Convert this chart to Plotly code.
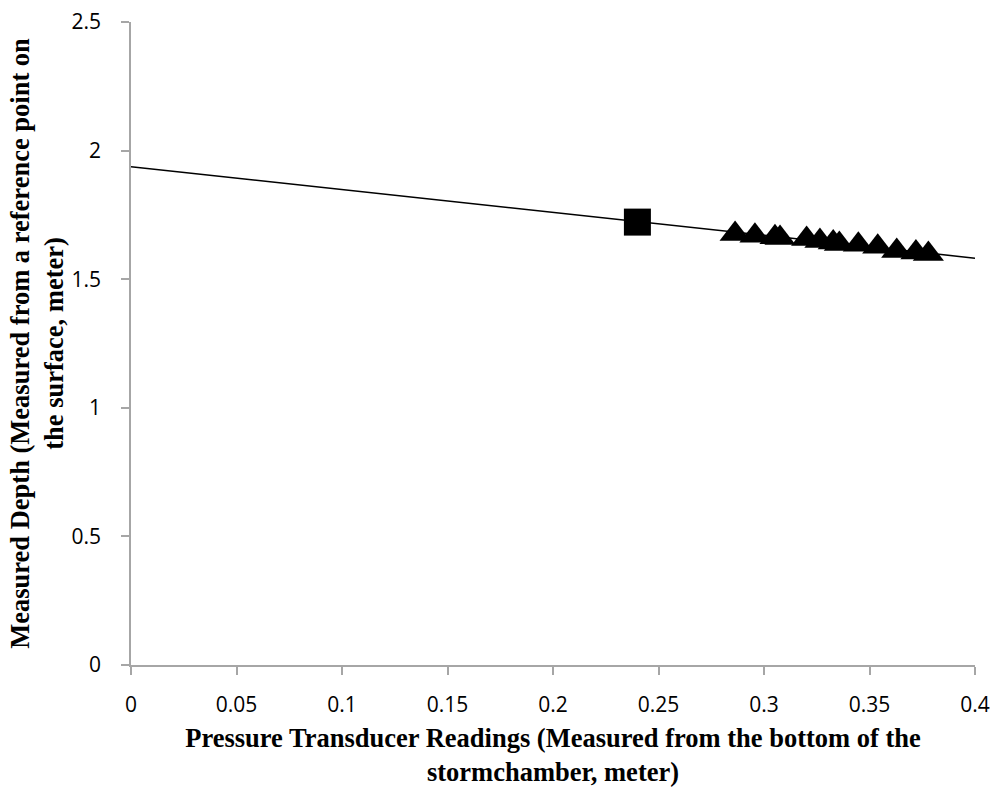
import plotly.graph_objects as go

# Data
square_x = [0.240]
square_y = [1.722]
tri_x = [0.2863, 0.2957, 0.3052, 0.3076, 0.3202, 0.3265, 0.3328, 0.3357, 0.3447, 0.3539, 0.3629, 0.3720, 0.3779]
tri_y = [1.676, 1.669, 1.663, 1.660, 1.656, 1.649, 1.643, 1.637, 1.634, 1.626, 1.610, 1.604, 1.598]
trend_intercept = 1.937
trend_slope = -0.888
trend_x = [0.0, 0.4]
trend_y = [trend_intercept + trend_slope * x for x in trend_x]

x_ticks = [0, 0.05, 0.1, 0.15, 0.2, 0.25, 0.3, 0.35, 0.4]
x_ticktext = ["0", "0.05", "0.1", "0.15", "0.2", "0.25", "0.3", "0.35", "0.4"]
y_ticks = [0, 0.5, 1, 1.5, 2, 2.5]
y_ticktext = ["0", "0.5", "1", "1.5", "2", "2.5"]

fig = go.Figure()
fig.add_trace(go.Scatter(x=trend_x, y=trend_y, mode="lines",
                         line=dict(color="black", width=1.5), showlegend=False, hoverinfo="skip"))
fig.add_trace(go.Scatter(x=square_x, y=square_y, mode="markers",
                         marker=dict(symbol="square", size=27, color="black"), showlegend=False))
fig.add_trace(go.Scatter(x=tri_x, y=tri_y, mode="markers",
                         marker=dict(symbol="triangle-up", size=27, color="black"), showlegend=False))

axis_common = dict(showgrid=False, zeroline=False, showline=True, linecolor="#a6a6a6", linewidth=1.5,
                   ticks="outside", ticklen=8, tickcolor="#a6a6a6", tickwidth=1.5, automargin=False,
                   tickfont=dict(family="Open Sans, DejaVu Sans, sans-serif", size=21, color="black"))

title_font = dict(family="Liberation Serif, Times New Roman, serif", size=26.5, color="black")

fig.update_xaxes(range=[0, 0.4], tickvals=x_ticks, ticktext=x_ticktext, ticklabelstandoff=12,
                 title=dict(text="<b>Pressure Transducer Readings (Measured from the bottom of the<br>stormchamber, meter)</b>",
                            font=title_font, standoff=16),
                 **axis_common)
fig.update_yaxes(range=[0, 2.5], tickvals=y_ticks, ticktext=y_ticktext, ticklabelstandoff=16,
                 title=dict(text="<b>Measured Depth (Measured from a reference point on<br>the surface, meter)</b>",
                            font=title_font, standoff=0),
                 **axis_common)

fig.update_layout(width=994, height=787, plot_bgcolor="white", paper_bgcolor="white",
                  margin=dict(l=131, r=19, t=22, b=122))

fig.write_html("out.html")
